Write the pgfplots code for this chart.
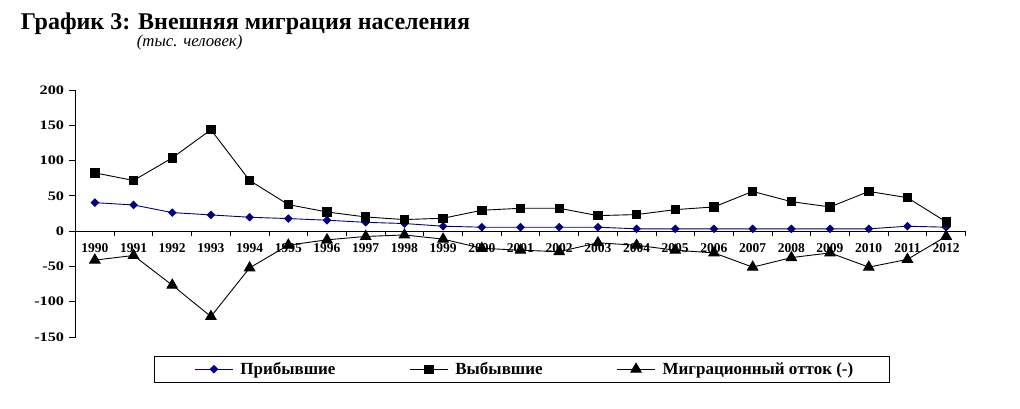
\documentclass[border=0pt]{standalone}
\usepackage{fontspec}
\setmainfont{Liberation Serif}
\usepackage{pgfplots}
\pgfplotsset{compat=1.18}
\definecolor{navyb}{RGB}{0,0,128}
\begin{document}
\begin{tikzpicture}[x=1pt,y=1pt]
\useasboundingbox (0pt,0pt) rectangle (1020pt,-408pt);
\node[anchor=base west, font=\bfseries\fontsize{24}{28}\selectfont, inner sep=0] at (20.7pt,-29.3pt) {График 3: Внешняя миграция населения};
\node[anchor=base west, font=\itshape\fontsize{16.8}{18}\selectfont, inner sep=0] at (136.7pt,-46pt) {(тыс. человек)};
\begin{axis}[
  at={(75.5pt,-337pt)}, anchor=south west, scale only axis, width=890pt, height=247pt,
  xmin=1989.5, xmax=2012.5, ymin=-150, ymax=200,
  axis x line=middle, axis y line=left,
  axis line style={-, black, line width=0.9pt},
  ytick={-150,-100,-50,0,50,100,150,200},
  yticklabels={-150,-100,-50,0,50,100,150,200},
  xtick={1990,...,2012},
  xticklabels={1990,1991,1992,1993,1994,1995,1996,1997,1998,1999,2000,2001,2002,2003,2004,2005,2006,2007,2008,2009,2010,2011,2012},
  major x tick style={draw=none},
  minor xtick={1989.5,1990.5,...,2012.5},
  minor x tick style={black, line width=0.8pt},
  minor tick length=4.5pt,
  major tick length=7pt,
  y tick style={black, line width=0.8pt},
  tick align=outside,
  xticklabel style={font=\bfseries\fontsize{13.5}{14}\selectfont, anchor=base, yshift=-14pt},
  yticklabel style={font=\bfseries\fontsize{13}{14}\selectfont, xscale=1.25},
  clip=false,
  legend columns=3,
  legend style={at={(0.0882,-0.0765)}, anchor=north west, draw=black, line width=0.9pt,
    font=\bfseries\fontsize{17}{20}\selectfont, inner xsep=34pt, inner ysep=4pt,
    /tikz/every odd column/.append style={column sep=5pt},
    /tikz/every even column/.append style={column sep=66pt}},
  legend image code/.code={\path (-6pt,0pt); \draw[mark repeat=2,mark phase=2,#1] plot coordinates {(0pt,0pt)(19pt,0pt)(38pt,0pt)};},
]
\addplot[navyb, line width=0.9pt, mark=square*, mark size=2.6pt, mark options={fill=navyb, rotate=45}] coordinates {
(1990,40.4)(1991,37.1)(1992,26.3)(1993,23.0)(1994,19.7)(1995,17.8)(1996,15.5)(1997,12.5)(1998,10.8)(1999,7.0)(2000,5.6)(2001,5.6)(2002,5.6)(2003,5.6)(2004,3.3)(2005,3.3)(2006,3.3)(2007,3.3)(2008,3.3)(2009,3.3)(2010,3.3)(2011,7.0)(2012,5.6)};
\addlegendentry{Прибывшие}
\addplot[black, line width=0.9pt, mark=square*, mark size=4.2pt, mark options={fill=black}] coordinates {
(1990,82.6)(1991,71.8)(1992,103.8)(1993,143.7)(1994,71.8)(1995,37.6)(1996,27.2)(1997,20.1)(1998,16.4)(1999,18.3)(2000,29.6)(2001,32.4)(2002,32.4)(2003,22.0)(2004,23.5)(2005,30.5)(2006,34.3)(2007,56.3)(2008,41.8)(2009,34.3)(2010,56.3)(2011,47.4)(2012,13.1)};
\addlegendentry{Выбывшие}
\addplot[black, line width=0.9pt, mark=triangle*, mark size=6pt, mark options={fill=black}] coordinates {
(1990,-41)(1991,-34.5)(1992,-76.5)(1993,-121)(1994,-52)(1995,-19.8)(1996,-12.3)(1997,-7.5)(1998,-5.4)(1999,-11.3)(2000,-24.3)(2001,-27)(2002,-29)(2003,-16.5)(2004,-20)(2005,-27)(2006,-30.8)(2007,-51)(2008,-37.5)(2009,-30.8)(2010,-51)(2011,-40)(2012,-7.3)};
\addlegendentry{Миграционный отток (-)}
\end{axis}
\end{tikzpicture}
\end{document}
